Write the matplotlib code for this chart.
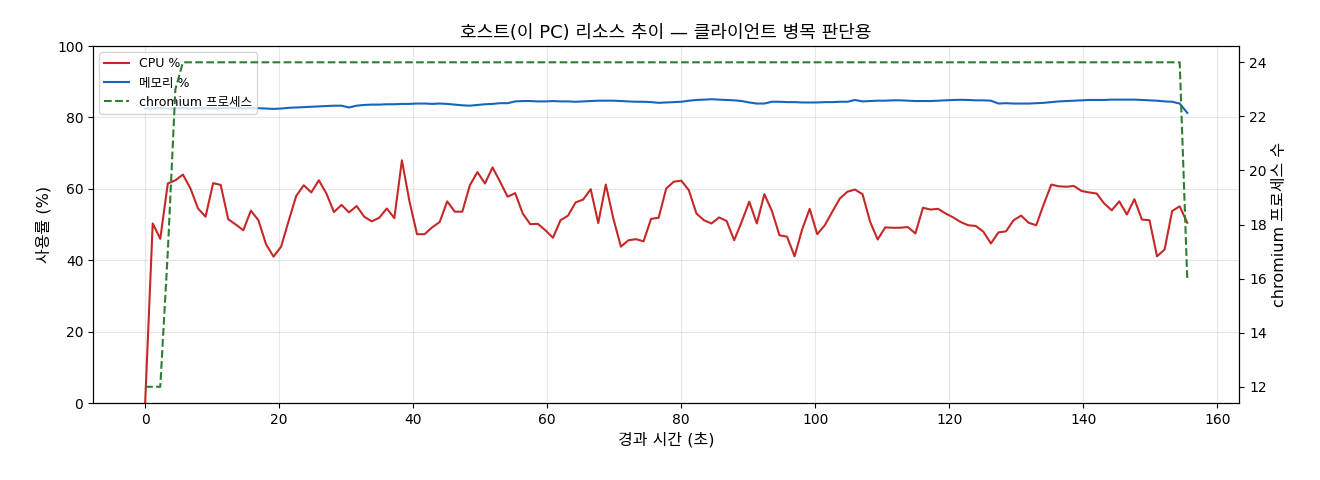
import numpy as np
import matplotlib
matplotlib.use("Agg")
import matplotlib.pyplot as plt

# wider latin glyphs first, korean from Noto CJK
plt.rcParams['font.family'] = ['DejaVu Sans', 'Noto Sans CJK KR']
plt.rcParams['axes.unicode_minus'] = False

# host samples (~1.13 s interval)
cpu = [0.0, 50.3, 46.0, 61.5, 62.4, 64.0, 60.1, 54.5, 52.2, 61.6,
       61.1, 51.5, 50.0, 48.4, 53.9, 51.2, 44.5, 41.0, 43.8, 51.0,
       58.0, 61.0, 59.0, 62.4, 58.7, 53.5, 55.5, 53.4, 55.2, 52.2,
       50.9, 51.9, 54.5, 51.8, 68.0, 56.5, 47.3, 47.3, 49.2, 50.7,
       56.5, 53.6, 53.6, 61.0, 64.7, 61.5, 66.0, 62.0, 57.8, 58.8,
       53.1, 50.1, 50.2, 48.4, 46.3, 51.2, 52.5, 56.2, 57.0, 59.9,
       50.4, 61.2, 51.7, 43.8, 45.6, 45.9, 45.3, 51.6, 51.9, 60.1,
       62.0, 62.3, 59.6, 53.1, 51.2, 50.3, 52.0, 51.0, 45.6, 50.8,
       56.4, 50.3, 58.5, 53.8, 47.0, 46.6, 41.1, 48.6, 54.4, 47.3,
       49.8, 53.6, 57.3, 59.2, 59.8, 58.5, 50.8, 45.8, 49.2, 49.1,
       49.1, 49.3, 47.5, 54.7, 54.2, 54.4, 53.1, 52.0, 50.7, 49.8,
       49.6, 48.0, 44.7, 47.8, 48.1, 51.2, 52.5, 50.5, 49.8, 55.7,
       61.2, 60.7, 60.6, 60.8, 59.4, 59.0, 58.7, 55.9, 54.0, 56.5,
       52.8, 57.1, 51.4, 51.2, 41.1, 43.0, 53.8, 55.1, 50.5]

mem = [82.5, 82.5, 82.6, 82.5, 82.6, 82.6,
       82.5, 82.6, 82.6, 82.5, 82.6, 82.6,
       82.6, 82.5, 82.6, 82.6, 82.5, 82.4,
       82.5, 82.7, 82.8, 82.9, 83.0, 83.1,
       83.2, 83.3, 83.3, 82.8, 83.3, 83.5,
       83.6, 83.6, 83.7, 83.7, 83.8, 83.8,
       83.9, 83.9, 83.8, 83.9, 83.8, 83.6,
       83.4, 83.3, 83.5, 83.7, 83.8, 84.0,
       84.0, 84.5, 84.6, 84.6, 84.5, 84.5,
       84.6, 84.5, 84.5, 84.4, 84.5, 84.6,
       84.7, 84.7, 84.7, 84.6, 84.5, 84.4,
       84.4, 84.3, 84.1, 84.2, 84.3, 84.4,
       84.7, 84.9, 85.0, 85.1, 85.0, 84.9,
       84.8, 84.6, 84.2, 83.9, 83.9, 84.4,
       84.4, 84.3, 84.3, 84.2, 84.2, 84.2,
       84.3, 84.3, 84.4, 84.4, 84.9, 84.5,
       84.6, 84.7, 84.7, 84.8, 84.8, 84.7,
       84.6, 84.6, 84.6, 84.7, 84.8, 84.9,
       84.95, 84.9, 84.8, 84.8, 84.7, 83.9,
       84.0, 83.9, 83.9, 83.9, 84.0, 84.1,
       84.3, 84.5, 84.6, 84.7, 84.8, 84.9,
       84.9, 84.9, 85.0, 85.0, 85.0, 85.0,
       84.9, 84.8, 84.7, 84.5, 84.4, 83.9, 81.3]

procs = [12, 12, 12, 17, 23] + [24] * 133 + [16]

t = np.linspace(0, 155.5, len(cpu))

fig = plt.figure(figsize=(13.2, 4.8), dpi=100)
ax1 = fig.add_axes([0.0705, 0.1604, 0.8684, 0.7436])
ax2 = ax1.twinx()

l1, = ax1.plot(t, cpu, color='#c62828', lw=1.5, label='CPU %')
l2, = ax1.plot(t, mem, color='#1565c0', lw=1.5, label='메모리 %')
l3, = ax2.plot(t, procs, color='#2e7d32', lw=1.5, ls='--', label='chromium 프로세스')

ax1.set_ylim(0, 100)
ax1.set_xlabel('경과 시간 (초)', fontsize=11.5)
ax1.set_ylabel('사용률 (%)', fontsize=11.5)
ax2.set_ylabel('chromium 프로세스 수', fontsize=11.5)
ax1.set_title('호스트(이 PC) 리소스 추이 — 클라이언트 병목 판단용', fontsize=13)
ax1.grid(True, alpha=0.3)
ax1.tick_params(labelsize=10)
ax2.tick_params(labelsize=10)

ax1.legend(handles=[l1, l2, l3], loc='upper left', fontsize=9)

fig.savefig('out.png', dpi=100)
